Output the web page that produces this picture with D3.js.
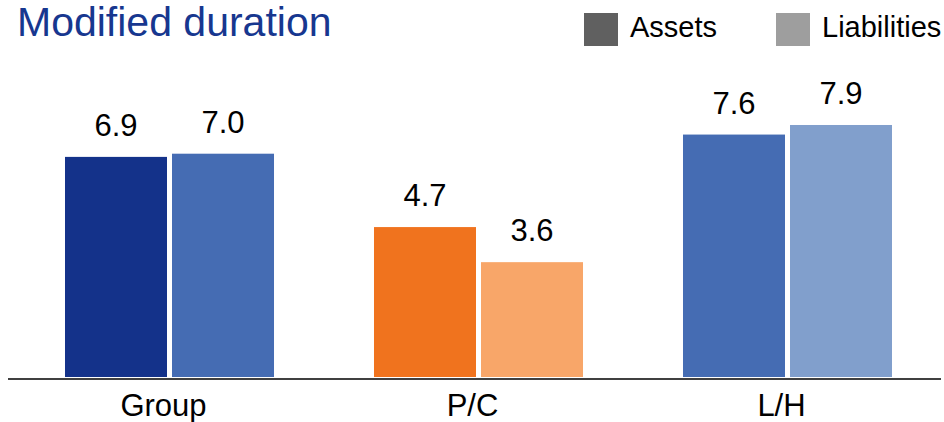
<!DOCTYPE html>
<html>
<head>
<meta charset="utf-8">
<script src="https://cdn.jsdelivr.net/npm/d3@7"></script>
<style>
  body { margin: 0; background: #ffffff; }
  text { font-family: "Liberation Sans", Arial, sans-serif; }
</style>
</head>
<body>
<svg></svg>
<script>
// data
var categories = ['Group', 'P/C', 'L/H']
var seriesNames = ['Assets', 'Liabilities']
var assets = [6.9, 4.7, 7.6]
var liabilities = [7.0, 3.6, 7.9]

// colours per category, [assets, liabilities]
var barColors = {
    'Group': ['#14328a', '#456cb3'],
    'P/C': ['#f0731e', '#f8a669'],
    'L/H': ['#456cb3', '#819fcc']
}
var legendColors = ['#606060', '#9e9e9e']

var svgWidth = 944, svgHeight = 422
var baseY = 377

var svg = d3.select('svg')
    .attr('width', svgWidth)
    .attr('height', svgHeight)

var x0 = d3.scaleBand()
    .domain(categories)
    .range([15, 942])
    .paddingInner(0.3236)
    .paddingOuter(0.1618)

var x1 = d3.scaleBand()
    .domain(seriesNames)
    .range([0, x0.bandwidth()])
    .paddingInner(0.0467)

var yScale = d3.scaleLinear()
    .domain([0, 8])
    .range([baseY, baseY - 8 * 31.9])

var rows = categories.map(function(c, i) {
    return { cat: c, values: [
        { key: 'Assets', value: assets[i] },
        { key: 'Liabilities', value: liabilities[i] }
    ]}
})

var groups = svg.selectAll('g.cat')
    .data(rows)
    .enter()
    .append('g')
    .attr('class', 'cat')
    .attr('transform', function(d) { return 'translate(' + x0(d.cat) + ',0)' })

groups.selectAll('rect')
    .data(function(d) { return d.values.map(function(v, j) { return { cat: d.cat, key: v.key, value: v.value, j: j } }) })
    .enter()
    .append('rect')
    .attr('x', function(d) { return x1(d.key) })
    .attr('y', function(d) { return yScale(d.value) })
    .attr('width', x1.bandwidth())
    .attr('height', function(d) { return baseY - yScale(d.value) })
    .style('fill', function(d) { return barColors[d.cat][d.j] })

groups.selectAll('text.val')
    .data(function(d) { return d.values })
    .enter()
    .append('text')
    .attr('class', 'val')
    .attr('x', function(d) { return x1(d.key) + x1.bandwidth() / 2 })
    .attr('y', function(d) { return yScale(d.value) - 21 })
    .attr('text-anchor', 'middle')
    .style('font-size', '31px')
    .style('fill', '#000')
    .text(function(d) { return d.value.toFixed(1) })

// x axis
var xAxis = d3.axisBottom(x0).tickSize(0).tickPadding(0)
var axisG = svg.append('g')
    .attr('transform', 'translate(0,' + (baseY + 2) + ')')
    .call(xAxis)
axisG.select('.domain').remove()
axisG.append('line')
    .attr('x1', 8).attr('x2', 941)
    .attr('y1', 0).attr('y2', 0)
    .style('stroke', '#000')
    .style('stroke-width', 1.5)
axisG.selectAll('.tick text')
    .attr('dy', null)
    .attr('y', 37)
    .attr('x', -6)
    .style('font-family', '"Liberation Sans", Arial, sans-serif')
    .style('font-size', '31px')
    .style('fill', '#000')

// title
svg.append('text')
    .attr('x', 17)
    .attr('y', 36)
    .style('font-size', '41px')
    .style('fill', '#17378f')
    .text('Modified duration')

// legend
var legendX = [584, 776]
var legend = svg.selectAll('g.legend')
    .data(seriesNames)
    .enter()
    .append('g')
    .attr('class', 'legend')
    .attr('transform', function(d, i) { return 'translate(' + legendX[i] + ',13)' })
legend.append('rect')
    .attr('width', 34)
    .attr('height', 33)
    .style('fill', function(d, i) { return legendColors[i] })
legend.append('text')
    .attr('x', 46)
    .attr('y', 24)
    .style('font-size', '29px')
    .style('fill', '#000')
    .text(function(d) { return d })
</script>
</body>
</html>
